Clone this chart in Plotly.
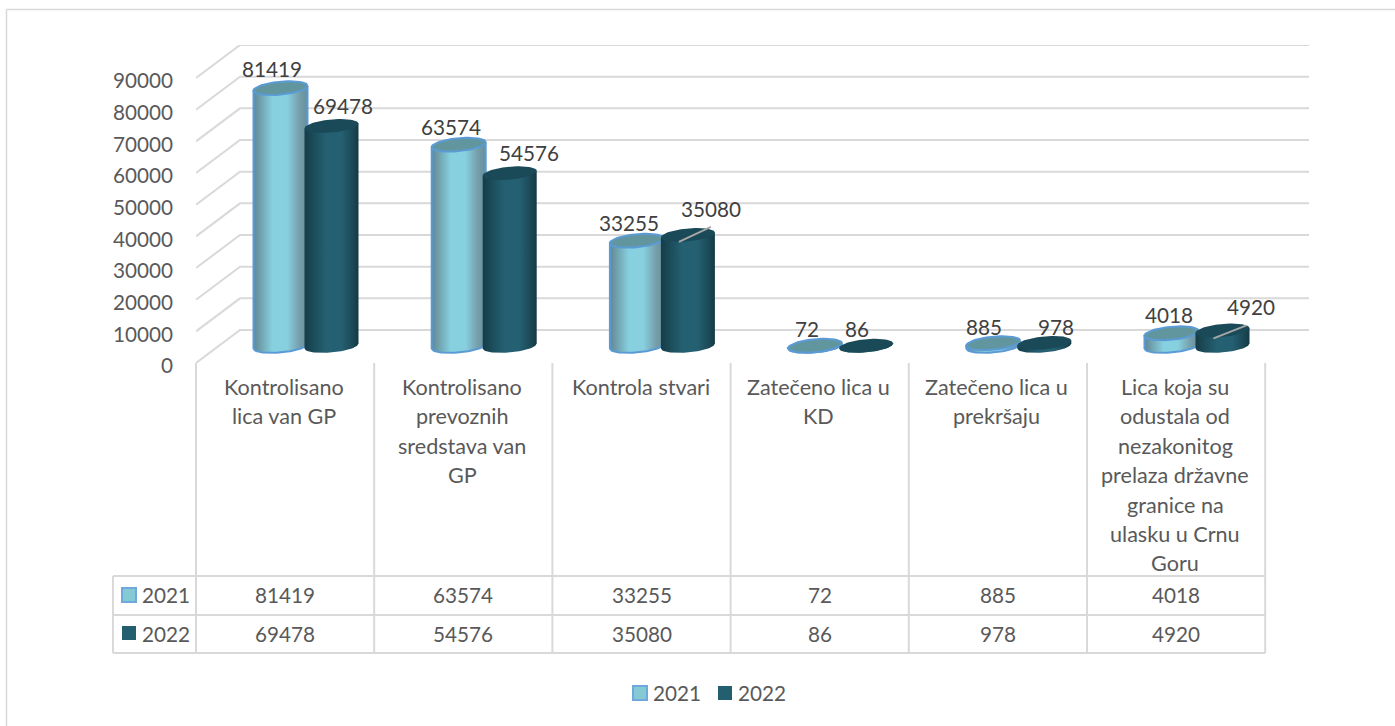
import numpy as np
import plotly.graph_objects as go

W, H = 1395, 726

# ---------- data ----------
categories = [
    ["Kontrolisano", "lica van GP"],
    ["Kontrolisano", "prevoznih", "sredstava van", "GP"],
    ["Kontrola stvari"],
    ["Zatečeno lica u", "KD"],
    ["Zatečeno lica u", "prekršaju"],
    ["Lica koja su", "odustala od", "nezakonitog", "prelaza državne", "granice na", "ulasku u Crnu", "Goru"],
]
series_names = ["2021", "2022"]
values_2021 = [81419, 63574, 33255, 72, 885, 4018]
values_2022 = [69478, 54576, 35080, 86, 978, 4920]
y_ticks = [0, 10000, 20000, 30000, 40000, 50000, 60000, 70000, 80000, 90000]

# ---------- geometry ----------
PLOT_L, PLOT_R = 196.0, 1309.0
PLOT_TOP, PLOT_BOTTOM = 45.0, 363.0
COL = 178.2                       # px per category
CAT0 = PLOT_L + COL / 2           # px centre of the first table column
PX_PER_UNIT = 285.0 / 90000
Y_MAX = (PLOT_BOTTOM - PLOT_TOP) / PX_PER_UNIT
X_MIN = (PLOT_L - CAT0) / COL
X_MAX = (PLOT_R - CAT0) / COL
DEPTH_X = 44 / COL
DEPTH_Y = 33 / PX_PER_UNIT
BASE = 17 / PX_PER_UNIT           # cylinder floor above the front axis
SERIES_DX = [-4.6 / COL, 46.4 / COL]
A = 27 / COL                      # cylinder half width
B = 6.5 / PX_PER_UNIT             # ellipse minor part
S = 2.4 / PX_PER_UNIT             # ellipse tilt

GRID = "#D9D9D9"
TXT = "#595959"
LBL = "#404040"
FONT = "Lato"
FS = 20.7
FS_TEXT = 21.6

light_scale = [[0, "#5F8894"], [0.12, "#6F9FAC"], [0.35, "#87D0E0"], [0.62, "#87D0E0"],
               [0.85, "#769FAB"], [1, "#668F9C"]]
dark_scale = [[0, "#163C47"], [0.18, "#1C4D5B"], [0.4, "#246072"], [0.68, "#246072"],
              [0.88, "#1B4A58"], [1, "#153944"]]
tops = ["#62969F", "#1A4A57"]
scales = [light_scale, dark_scale]
edge = ["#5B9BD5", None]

fig = go.Figure()

# back wall grid with side wall diagonals
gx, gy = [], []
for t in y_ticks:
    gx += [X_MIN, X_MIN + DEPTH_X, X_MAX, None]
    gy += [t, t + DEPTH_Y, t + DEPTH_Y, None]
fig.add_trace(go.Scatter(x=gx, y=gy, mode="lines", line=dict(color=GRID, width=2),
                         hoverinfo="skip", showlegend=False, cliponaxis=False))

# cylinders
th = np.linspace(0, 2 * np.pi, 73)
bottom_arc_u = np.linspace(-1, 1, 41)
for c in range(len(categories)):
    for s, vals in enumerate([values_2021, values_2022]):
        cx = c + SERIES_DX[s]
        top = vals[c] + BASE
        # body
        bx = np.concatenate([[cx + A], cx + A * bottom_arc_u[::-1], [cx - A], [cx + A]])
        lower = BASE - B * np.sqrt(1 - bottom_arc_u[::-1] ** 2) + S * bottom_arc_u[::-1]
        by = np.concatenate([[top + S], lower, [top - S], [top + S]])
        line = dict(color=edge[s], width=2) if edge[s] else dict(width=0)
        fig.add_trace(go.Scatter(
            x=bx, y=by, mode="lines", fill="toself", line=line,
            fillgradient=dict(type="horizontal", colorscale=scales[s]),
            hoverinfo="skip", showlegend=False, name=series_names[s], cliponaxis=False))
        # top ellipse
        ex = cx + A * np.cos(th)
        ey = top + B * np.sin(th) + S * np.cos(th)
        fig.add_trace(go.Scatter(
            x=ex, y=ey, mode="lines", fill="toself", fillcolor=tops[s], line=line,
            hoverinfo="skip", showlegend=False, name=series_names[s], cliponaxis=False))

annotations = []
shapes = []


def text(x, y, t, color=TXT, xref="paper", yref="paper", xshift=0, yshift=0, size=FS):
    annotations.append(dict(x=x, y=y, text=t, xref=xref, yref=yref, showarrow=False,
                            xanchor="center", yanchor="middle", xshift=xshift, yshift=yshift,
                            font=dict(family=FONT, size=size, color=color)))


def px_line(x0, y0, x1, y1, color=GRID, width=2):
    shapes.append(dict(type="line", xref="paper", yref="paper", x0=x0 / W, x1=x1 / W,
                       y0=1 - y0 / H, y1=1 - y1 / H, line=dict(color=color, width=width)))


# data labels: pixel offsets from the top of each cylinder
label_dx = [[-9, -8, -8, -8, -9, -3], [11, 19, 23, -9, 12, 28]]
label_dy = [[19, 18, 18, 17, 16, 18], [20, 20, 26, 17, 16, 23]]
for s, vals in enumerate([values_2021, values_2022]):
    for c, v in enumerate(vals):
        text(c + SERIES_DX[s], v + BASE, str(v), color=LBL, xref="x", yref="y",
             xshift=label_dx[s][c], yshift=label_dy[s][c])

# leader lines for the two displaced labels
for c, vals, p in [(2, values_2022, (-9, -7, 23, 8)), (5, values_2022, (-9, -8, 24, 5))]:
    shapes.append(dict(type="line", xref="x", yref="y", xsizemode="pixel", ysizemode="pixel",
                       xanchor=c + SERIES_DX[1], yanchor=vals[c] + BASE,
                       x0=p[0], y0=p[1], x1=p[2], y1=p[3],
                       line=dict(color="#A6A6A6", width=2)))

# data table
TABLE_L, R0, R1, R2 = 113, 576, 615, 653
for y in (R0, R1, R2):
    px_line(TABLE_L, y, PLOT_L + 6 * COL, y)
px_line(TABLE_L, R0, TABLE_L, R2)
for k in range(7):
    x = PLOT_L + k * COL
    px_line(x, PLOT_BOTTOM, x, R2)

LINE_STEP = 29.4
for c, lines in enumerate(categories):
    xc = (CAT0 - 1 + c * COL) / W
    for i, t in enumerate(lines):
        text(xc, 1 - (387 + i * LINE_STEP) / H, t, size=FS_TEXT)

for s, (vals, row_y) in enumerate(zip([values_2021, values_2022], (595, 634))):
    for c, v in enumerate(vals):
        text((CAT0 + c * COL) / W, 1 - row_y / H, str(v))
    text(166 / W, 1 - row_y / H, series_names[s])


def swatch(x0, y0, size, s):
    fill = "#85C9D5" if s == 0 else "#235F6F"
    ln = dict(color="#6FA8DC", width=2) if s == 0 else dict(width=0)
    shapes.append(dict(type="rect", xref="paper", yref="paper", x0=x0 / W, x1=(x0 + size) / W,
                       y0=1 - y0 / H, y1=1 - (y0 + size) / H, fillcolor=fill, line=ln))


swatch(122, 588, 14, 0)
swatch(122, 626, 14, 1)

# legend
swatch(633, 686, 14, 0)
swatch(718, 686, 14, 1)
text(677 / W, 1 - 693 / H, series_names[0])
text(762 / W, 1 - 693 / H, series_names[1])

# chart frame (left and top edges are visible in the picture)
px_line(6.5, 9.5, W, 9.5, color="#D9D9D9", width=1.5)
px_line(6.5, 9.5, 6.5, H, color="#D9D9D9", width=1.5)

fig.update_layout(
    autosize=False,
    width=W, height=H, margin=dict(l=0, r=0, t=0, b=0, pad=0, autoexpand=False),
    paper_bgcolor="white", plot_bgcolor="rgba(0,0,0,0)", showlegend=False,
    xaxis=dict(domain=[PLOT_L / W, PLOT_R / W], range=[X_MIN, X_MAX], visible=False, fixedrange=True),
    yaxis=dict(domain=[1 - PLOT_BOTTOM / H, 1 - PLOT_TOP / H], range=[0, Y_MAX],
               tickmode="array", tickvals=y_ticks, ticktext=[str(t) for t in y_ticks],
               showgrid=False, zeroline=False, showline=False, ticks="", anchor="x",
               ticklabelstandoff=22, ticklabelshift=3, fixedrange=True,
               tickfont=dict(family=FONT, size=FS, color=TXT)),
    annotations=annotations, shapes=shapes,
)
fig.write_html("out.html", config=dict(displayModeBar=False, responsive=False),
               post_script="document.documentElement.style.margin='0';document.body.style.margin='0';"
                           "document.body.style.overflow='hidden';")
